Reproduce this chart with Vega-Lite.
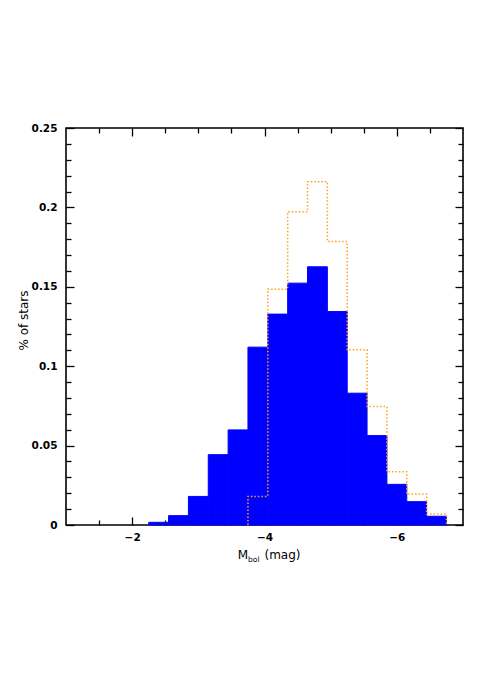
{
  "$schema": "https://vega.github.io/schema/vega-lite/v6.json",
  "width": 397,
  "height": 397,
  "autosize": {"type": "none"},
  "padding": {"left": 66, "top": 128, "right": 28, "bottom": 169},
  "background": "white",
  "config": {
    "view": {"stroke": "black", "strokeWidth": 1.6},
    "axis": {"grid": false, "domain": false, "labelFont": "DejaVu Sans", "labelFontSize": 10.5, "labelFontWeight": "bold", "labelColor": "black", "titleFont": "DejaVu Sans", "titleFontWeight": "normal", "titleColor": "black", "tickColor": "black", "tickWidth": 1.3}
  },
  "datasets": {
    "blue": [
      {"lo": -2.25, "hi": -2.55, "v": 0.0017},
      {"lo": -2.55, "hi": -2.85, "v": 0.0059},
      {"lo": -2.85, "hi": -3.15, "v": 0.018},
      {"lo": -3.15, "hi": -3.45, "v": 0.0443},
      {"lo": -3.45, "hi": -3.75, "v": 0.0599},
      {"lo": -3.75, "hi": -4.05, "v": 0.112},
      {"lo": -4.05, "hi": -4.35, "v": 0.1328},
      {"lo": -4.35, "hi": -4.65, "v": 0.1523},
      {"lo": -4.65, "hi": -4.95, "v": 0.1626},
      {"lo": -4.95, "hi": -5.25, "v": 0.1344},
      {"lo": -5.25, "hi": -5.55, "v": 0.083},
      {"lo": -5.55, "hi": -5.85, "v": 0.0563},
      {"lo": -5.85, "hi": -6.15, "v": 0.0256},
      {"lo": -6.15, "hi": -6.45, "v": 0.0147},
      {"lo": -6.45, "hi": -6.75, "v": 0.0055}
    ],
    "orange": [
      {"k": 0, "x": -3.75, "v": 0},
      {"k": 1, "x": -3.75, "v": 0.018},
      {"k": 2, "x": -4.05, "v": 0.1485},
      {"k": 3, "x": -4.35, "v": 0.1972},
      {"k": 4, "x": -4.65, "v": 0.2161},
      {"k": 5, "x": -4.95, "v": 0.1785},
      {"k": 6, "x": -5.25, "v": 0.1103},
      {"k": 7, "x": -5.55, "v": 0.0746},
      {"k": 8, "x": -5.85, "v": 0.0336},
      {"k": 9, "x": -6.15, "v": 0.0195},
      {"k": 10, "x": -6.45, "v": 0.0069},
      {"k": 11, "x": -6.75, "v": 0}
    ]
  },
  "resolve": {"axis": {"x": "independent", "y": "independent"}},
  "layer": [
    {
      "data": {"name": "blue"},
      "mark": {"type": "bar", "color": "#0000ff", "stroke": "#0000ff", "strokeWidth": 1},
      "encoding": {
        "x": {"field": "lo", "type": "quantitative",
          "scale": {"domain": [-7, -1], "reverse": true, "nice": false, "zero": false},
          "axis": {"orient": "bottom", "values": [-2, -4, -6], "format": "~g", "ticks": false, "labelPadding": 7.5,
            "title": "M", "titleFontSize": 12, "titleX": 176.5, "titleY": 33, "titleBaseline": "alphabetic", "titleAlign": "center"}},
        "x2": {"field": "hi"},
        "y": {"field": "v", "type": "quantitative",
          "scale": {"domain": [0, 0.25], "nice": false},
          "axis": {"orient": "left", "values": [0, 0.05, 0.1, 0.15, 0.2, 0.25], "format": "~g", "ticks": false, "labelPadding": 9,
            "title": "% of stars", "titleFontSize": 12, "titleX": -39, "titleY": 192, "titleBaseline": "alphabetic", "titleAlign": "center", "titleAngle": 270}},
        "y2": {"datum": 0}
      }
    },
    {
      "data": {"name": "orange"},
      "mark": {"type": "line", "interpolate": "step-after", "color": "#ffa020", "strokeWidth": 1.5, "strokeDash": [1.5, 2]},
      "encoding": {
        "x": {"field": "x", "type": "quantitative",
          "axis": {"orient": "bottom", "values": [-1.5, -2, -2.5, -3, -3.5, -4, -4.5, -5, -5.5, -6, -6.5], "labels": false,
            "title": "(mag)", "titleFontSize": 12, "titleX": 216, "titleY": 33, "titleBaseline": "alphabetic", "titleAlign": "center",
            "tickSize": {"condition": {"test": "abs(datum.value) % 2 == 0", "value": -8}, "value": -5}}},
        "y": {"field": "v", "type": "quantitative",
          "axis": {"orient": "left", "values": [0, 0.01, 0.02, 0.03, 0.04, 0.05, 0.06, 0.07, 0.08, 0.09, 0.1, 0.11, 0.12, 0.13, 0.14, 0.15, 0.16, 0.17, 0.18, 0.19, 0.2, 0.21, 0.22, 0.23, 0.24, 0.25], "labels": false, "title": null,
            "tickSize": {"condition": {"test": "round(datum.value * 100) % 5 == 0", "value": -8}, "value": -5}}},
        "order": {"field": "k", "type": "quantitative"}
      }
    },
    {
      "data": {"name": "blue"},
      "mark": {"type": "bar", "opacity": 0},
      "encoding": {
        "x": {"field": "lo", "type": "quantitative",
          "axis": {"orient": "top", "values": [-1.5, -2, -2.5, -3, -3.5, -4, -4.5, -5, -5.5, -6, -6.5], "labels": false, "title": null,
            "tickSize": {"condition": {"test": "abs(datum.value) % 2 == 0", "value": -8}, "value": -5}}},
        "x2": {"field": "hi"},
        "y": {"field": "v", "type": "quantitative",
          "axis": {"orient": "right", "values": [0, 0.01, 0.02, 0.03, 0.04, 0.05, 0.06, 0.07, 0.08, 0.09, 0.1, 0.11, 0.12, 0.13, 0.14, 0.15, 0.16, 0.17, 0.18, 0.19, 0.2, 0.21, 0.22, 0.23, 0.24, 0.25], "labels": false, "title": null,
            "tickSize": {"condition": {"test": "round(datum.value * 100) % 5 == 0", "value": -8}, "value": -5}}},
        "y2": {"datum": 0}
      }
    },
    {
      "data": {"name": "blue"},
      "mark": {"type": "bar", "opacity": 0},
      "encoding": {
        "x": {"field": "lo", "type": "quantitative",
          "axis": {"orient": "bottom", "labels": false, "ticks": false, "title": "bol", "titleFontSize": 7.5, "titleX": 187.3, "titleY": 36, "titleBaseline": "alphabetic", "titleAlign": "center"}},
        "x2": {"field": "hi"},
        "y": {"field": "v", "type": "quantitative", "axis": null},
        "y2": {"datum": 0}
      }
    }
  ]
}
